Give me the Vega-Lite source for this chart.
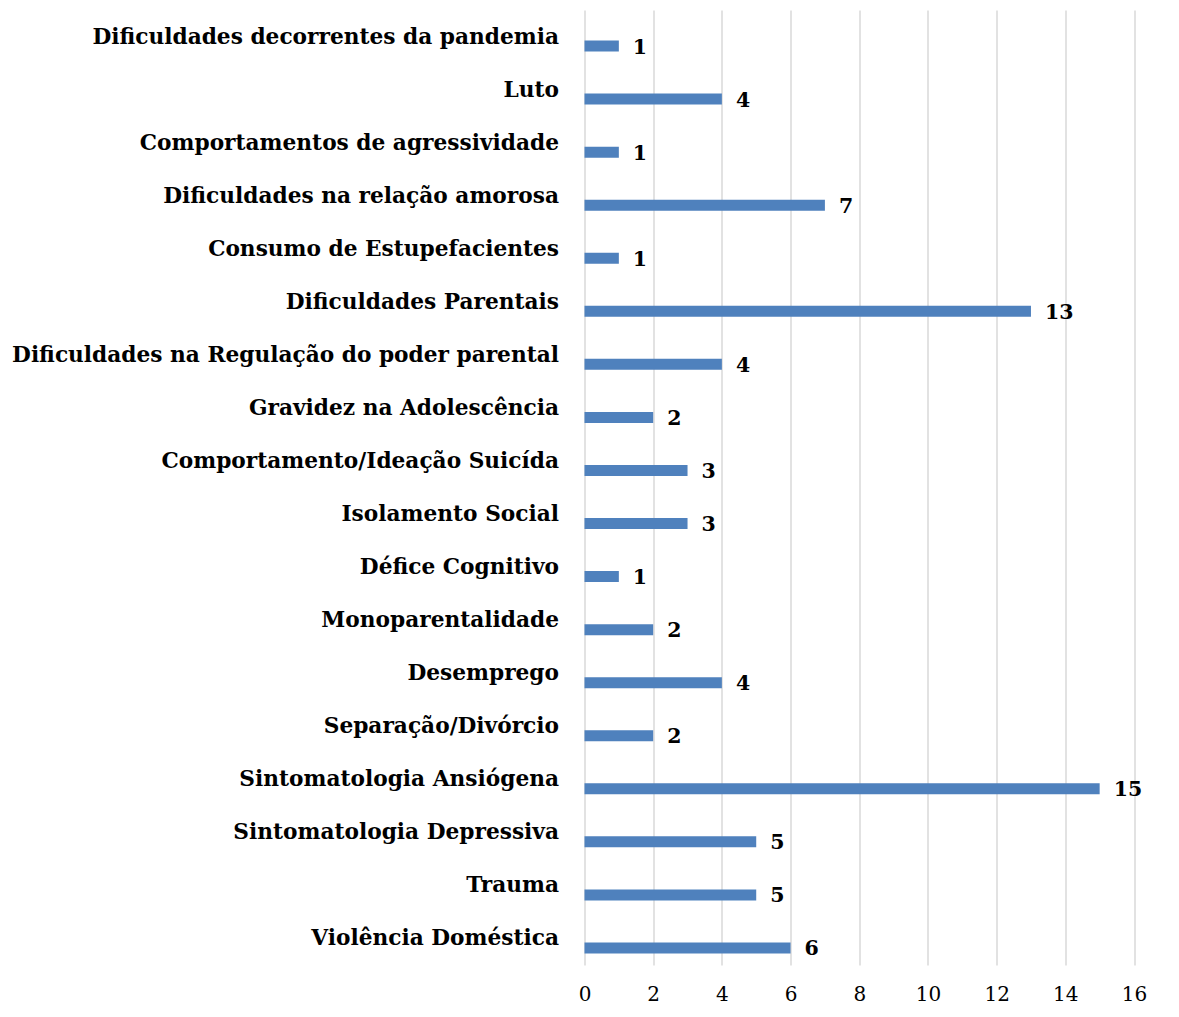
{
  "$schema": "https://vega.github.io/schema/vega-lite/v6.json",
  "autosize": "none",
  "width": 549.5,
  "height": 955,
  "padding": {"left": 584.5, "top": 10, "right": 45, "bottom": 52},
  "background": "white",
  "config": {"view": {"stroke": null}},
  "data": {
    "values": [
      {"categoria": "Dificuldades decorrentes da pandemia\u2002", "n": 1},
      {"categoria": "Luto", "n": 4},
      {"categoria": "Comportamentos de agressividade", "n": 1},
      {"categoria": "Dificuldades na relação amorosa\u2002", "n": 7},
      {"categoria": "Consumo de Estupefacientes", "n": 1},
      {"categoria": "Dificuldades Parentais\u2002", "n": 13},
      {"categoria": "Dificuldades na Regulação do poder parental", "n": 4},
      {"categoria": "Gravidez na Adolescência\u2002", "n": 2},
      {"categoria": "Comportamento/Ideação Suicída", "n": 3},
      {"categoria": "Isolamento Social", "n": 3},
      {"categoria": "Défice Cognitivo", "n": 1},
      {"categoria": "Monoparentalidade", "n": 2},
      {"categoria": "Desemprego", "n": 4},
      {"categoria": "Separação/Divórcio", "n": 2},
      {"categoria": "Sintomatologia Ansiógena", "n": 15},
      {"categoria": "Sintomatologia Depressiva", "n": 5},
      {"categoria": "Trauma", "n": 5},
      {"categoria": "Violência Doméstica", "n": 6}
    ]
  },
  "encoding": {
    "y": {
      "field": "categoria",
      "type": "nominal",
      "sort": null,
      "scale": {"paddingInner": 0, "paddingOuter": 0},
      "axis": {
        "title": null,
        "domain": false,
        "ticks": false,
        "labelFont": "DejaVu Serif",
        "labelFontWeight": "bold",
        "labelFontSize": 21.7,
        "labelColor": "#000000",
        "labelLimit": 0,
        "labelPadding": 26
      }
    },
    "x": {
      "field": "n",
      "type": "quantitative",
      "scale": {"domain": [0, 16], "nice": false},
      "axis": {
        "title": null,
        "values": [0, 2, 4, 6, 8, 10, 12, 14, 16],
        "domain": false,
        "ticks": false,
        "grid": true,
        "gridColor": "#d9d9d9",
        "gridWidth": 1.5,
        "labelFlush": false,
        "labelFont": "DejaVu Serif",
        "labelFontSize": 20,
        "labelColor": "#000000",
        "labelPadding": 19
      }
    }
  },
  "layer": [
    {
      "mark": {"type": "bar", "height": 11, "yOffset": 9.5, "color": "#4f81bd"}
    },
    {
      "mark": {
        "type": "text",
        "align": "left",
        "baseline": "middle",
        "dx": 14,
        "yOffset": 11,
        "font": "DejaVu Serif",
        "fontWeight": "bold",
        "fontSize": 20.5,
        "color": "#000000"
      },
      "encoding": {"text": {"field": "n", "type": "quantitative"}}
    }
  ]
}
